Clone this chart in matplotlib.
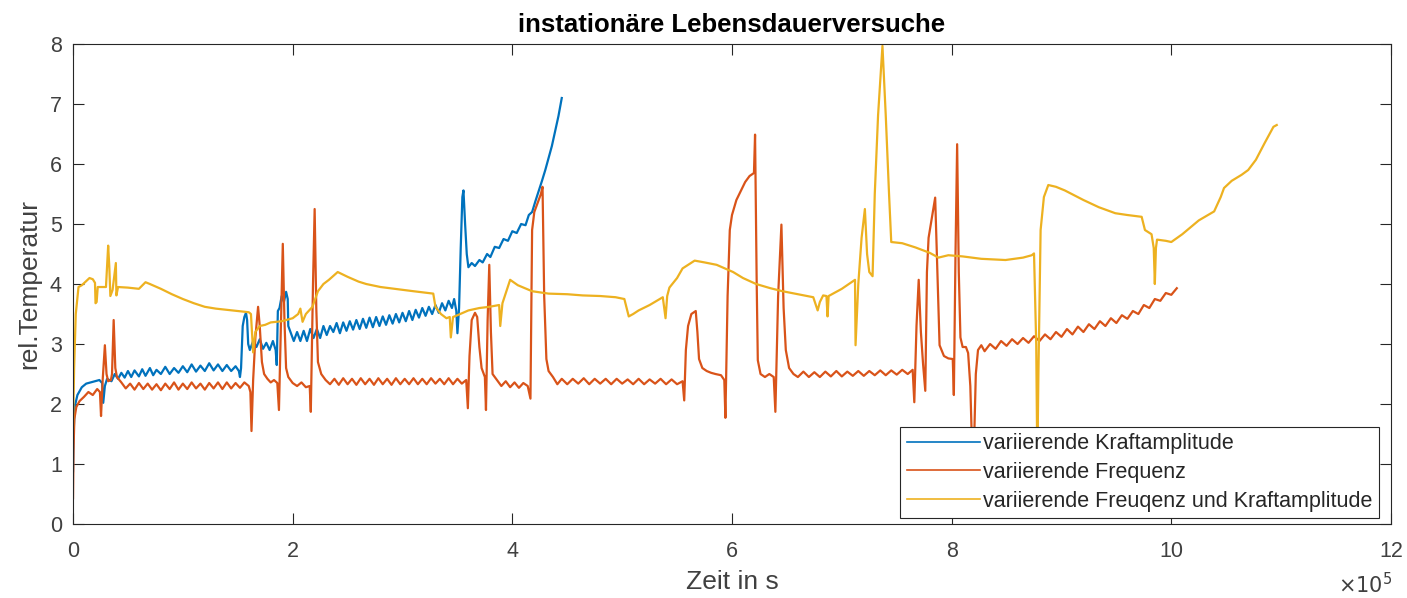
import matplotlib
matplotlib.use("Agg")
import matplotlib.pyplot as plt
import numpy as np

plt.rcParams['font.family'] = ['Liberation Sans', 'DejaVu Sans']

# Zeit in 1e5 s, rel. Temperatur
kraft_x = [0, 0.005, 0.015, 0.04, 0.08, 0.12, 0.18, 0.24, 0.265, 0.275, 0.29, 0.31, 0.35, 0.38, 0.41,
           0.44, 0.47, 0.5, 0.53, 0.56, 0.6, 0.63, 0.66, 0.7, 0.73, 0.76, 0.8, 0.84, 0.88, 0.92, 0.96,
           1.0, 1.04, 1.08, 1.12, 1.16, 1.2, 1.24, 1.28, 1.32, 1.36, 1.4, 1.44, 1.48, 1.51, 1.52, 1.53,
           1.545, 1.56, 1.575, 1.585, 1.595, 1.61, 1.64, 1.67, 1.7, 1.73, 1.76, 1.79, 1.82, 1.845, 1.855,
           1.865, 1.88, 1.9, 1.92, 1.94, 1.955, 1.96, 1.98, 2.01, 2.04, 2.07, 2.1, 2.13, 2.16, 2.19, 2.22,
           2.25, 2.28, 2.31, 2.34, 2.37, 2.40, 2.43, 2.46, 2.49, 2.52, 2.55, 2.58, 2.61, 2.64, 2.67, 2.70,
           2.73, 2.76, 2.79, 2.82, 2.85, 2.88, 2.91, 2.94, 2.97, 3.00, 3.03, 3.06, 3.09, 3.12, 3.15, 3.18,
           3.21, 3.24, 3.27, 3.30, 3.33, 3.36, 3.39, 3.42, 3.45, 3.47, 3.49, 3.50, 3.515, 3.53, 3.545,
           3.555, 3.57, 3.585, 3.6, 3.63, 3.66, 3.7, 3.73, 3.77, 3.8, 3.84, 3.88, 3.92, 3.96, 4.0, 4.04,
           4.08, 4.12, 4.15, 4.18, 4.21, 4.24, 4.27, 4.3, 4.33, 4.36, 4.39, 4.42, 4.44, 4.45]
kraft_y = [0.88, 1.5, 1.95, 2.15, 2.28, 2.34, 2.37, 2.4, 2.35, 2.02, 2.3, 2.42, 2.38, 2.5, 2.42,
           2.52, 2.44, 2.55, 2.45, 2.56, 2.46, 2.58, 2.47, 2.6, 2.48, 2.57, 2.5, 2.62, 2.5, 2.6, 2.52,
           2.63, 2.53, 2.66, 2.54, 2.64, 2.55, 2.68, 2.56, 2.66, 2.55, 2.65, 2.55, 2.63, 2.55, 2.45, 2.6,
           3.3, 3.45, 3.52, 3.4, 3.0, 2.9, 3.05, 2.95, 3.08, 2.92, 3.02, 2.9, 3.05, 2.9, 2.65,
           3.55, 3.6, 3.8, 3.7, 3.87, 3.75, 3.3, 3.2, 3.05, 3.2, 3.05, 3.22, 3.05, 3.25, 3.1, 3.25,
           3.1, 3.3, 3.15, 3.3, 3.20, 3.35, 3.18, 3.36, 3.22, 3.38, 3.24, 3.40, 3.25, 3.42, 3.27, 3.44,
           3.28, 3.45, 3.30, 3.46, 3.32, 3.48, 3.34, 3.50, 3.36, 3.52, 3.38, 3.55, 3.40, 3.57, 3.44, 3.60,
           3.47, 3.62, 3.50, 3.65, 3.52, 3.68, 3.56, 3.72, 3.60, 3.75, 3.55, 3.18, 3.6, 4.6, 5.45,
           5.56, 5.0, 4.5, 4.28, 4.35, 4.3, 4.4, 4.36, 4.5, 4.45, 4.62, 4.6, 4.75, 4.72, 4.88, 4.85,
           5.0, 4.98, 5.15, 5.2, 5.38, 5.55, 5.72, 5.9, 6.1, 6.3, 6.55, 6.8, 7.0, 7.1]

freq_x = [0, 0.004, 0.012, 0.03, 0.06, 0.1, 0.14, 0.18, 0.22, 0.245, 0.255, 0.27, 0.29, 0.305, 0.32,
          0.345, 0.355, 0.37, 0.385, 0.4,
          0.44, 0.48, 0.52, 0.56, 0.6, 0.64, 0.68, 0.72, 0.76, 0.8, 0.84, 0.88, 0.92, 0.96, 1.0, 1.04,
          1.08, 1.12, 1.16, 1.2, 1.24, 1.28, 1.32, 1.36, 1.4, 1.44, 1.48, 1.52, 1.56, 1.6,
          1.615, 1.625, 1.64, 1.66, 1.685, 1.70, 1.72, 1.74, 1.77, 1.8, 1.83, 1.86, 1.875, 1.895, 1.91,
          1.925, 1.94, 1.96, 2.0, 2.04, 2.08, 2.12, 2.155, 2.165, 2.185, 2.2, 2.215, 2.23, 2.26, 2.3,
          2.34, 2.38, 2.42, 2.46, 2.5, 2.54, 2.58, 2.62, 2.66, 2.7, 2.74, 2.78, 2.82, 2.86, 2.9, 2.94,
          2.98, 3.02, 3.06, 3.1, 3.14, 3.18, 3.22, 3.26, 3.3, 3.34, 3.38, 3.42, 3.46, 3.5, 3.54, 3.58,
          3.595, 3.61, 3.63, 3.66, 3.68, 3.7, 3.72, 3.75, 3.76, 3.775, 3.79, 3.805, 3.82, 3.86, 3.9,
          3.94, 3.98, 4.02, 4.06, 4.1, 4.14, 4.165, 4.18, 4.2, 4.23, 4.26, 4.275, 4.29, 4.31, 4.33, 4.37,
          4.41, 4.45, 4.5, 4.55, 4.6, 4.65, 4.7, 4.75, 4.8, 4.85, 4.9, 4.95, 5.0, 5.05, 5.1, 5.15, 5.2,
          5.25, 5.3, 5.35, 5.4, 5.45, 5.5, 5.55,
          5.565, 5.58, 5.6, 5.63, 5.67, 5.685, 5.70, 5.73, 5.77, 5.81, 5.85, 5.9, 5.93, 5.94, 5.96,
          5.98, 6.0, 6.04, 6.08, 6.12, 6.16, 6.2, 6.21, 6.225, 6.235, 6.26, 6.3, 6.34, 6.38, 6.395,
          6.42, 6.45, 6.47, 6.49, 6.52, 6.56,
          6.6, 6.65, 6.7, 6.75, 6.8, 6.85, 6.9, 6.95, 7.0, 7.05, 7.1, 7.15, 7.2, 7.25, 7.3, 7.35, 7.4,
          7.45, 7.5, 7.55, 7.6, 7.645,
          7.66, 7.68, 7.70, 7.72, 7.74, 7.76, 7.775, 7.79, 7.82, 7.85, 7.87, 7.89, 7.93, 7.97, 8.01,
          8.02, 8.035, 8.05, 8.065, 8.08, 8.1, 8.13, 8.15, 8.17, 8.19, 8.205, 8.22, 8.24, 8.27, 8.3,
          8.35, 8.4, 8.45, 8.5, 8.55, 8.6, 8.65, 8.7, 8.75, 8.8, 8.85, 8.9, 8.95, 9.0, 9.05, 9.1, 9.15,
          9.2, 9.25, 9.3, 9.35, 9.4, 9.45, 9.5, 9.55, 9.6, 9.65, 9.7, 9.75, 9.8, 9.85, 9.9, 9.95, 10.0,
          10.05]
freq_y = [0.43, 1.2, 1.75, 1.95, 2.05, 2.12, 2.2, 2.15, 2.25, 2.2, 1.8, 2.4, 2.98, 2.5, 2.38,
          2.4, 2.5, 3.4, 2.6, 2.45,
          2.36, 2.26, 2.34, 2.24, 2.35, 2.25, 2.34, 2.24, 2.33, 2.23, 2.34, 2.25, 2.36, 2.24, 2.34, 2.25,
          2.36, 2.26, 2.34, 2.24, 2.35, 2.26, 2.36, 2.25, 2.36, 2.26, 2.35, 2.27, 2.36, 2.3,
          2.2, 1.55, 2.4, 3.1, 3.62, 3.3, 2.7, 2.5, 2.42, 2.36, 2.4, 2.35, 1.9, 3.5, 4.67,
          3.4, 2.6, 2.45, 2.35, 2.3, 2.36, 2.28, 2.3, 1.87, 4.0, 5.25, 3.6, 2.7, 2.5, 2.4,
          2.33, 2.42, 2.32, 2.43, 2.33, 2.42, 2.32, 2.43, 2.33, 2.42, 2.32, 2.43, 2.33, 2.42, 2.32, 2.43,
          2.33, 2.42, 2.33, 2.43, 2.33, 2.42, 2.33, 2.43, 2.34, 2.42, 2.33, 2.43, 2.33, 2.42, 2.34, 2.4,
          1.93, 2.8, 3.4, 3.52, 3.45, 2.95, 2.6, 2.45, 1.9, 3.4, 4.32, 3.2, 2.5, 2.4, 2.3,
          2.38, 2.28, 2.36, 2.27, 2.35, 2.3, 2.09, 4.9, 5.2, 5.35, 5.5, 5.62, 3.8, 2.75, 2.55, 2.45,
          2.33, 2.42, 2.33, 2.42, 2.34, 2.43, 2.33, 2.42, 2.34, 2.42, 2.33, 2.42, 2.34, 2.41, 2.33, 2.42, 2.33,
          2.41, 2.34, 2.42, 2.33, 2.41, 2.33, 2.38,
          2.06, 2.9, 3.3, 3.5, 3.55, 3.2, 2.75, 2.6, 2.55, 2.52, 2.5, 2.48, 2.4, 1.77, 3.8,
          4.9, 5.15, 5.4, 5.55, 5.7, 5.8, 5.85, 6.49, 4.0, 2.73, 2.5, 2.45, 2.5, 2.45, 1.87,
          3.8, 4.99, 3.6, 2.9, 2.6, 2.5,
          2.45, 2.54, 2.45, 2.53, 2.45, 2.54, 2.46, 2.55, 2.46, 2.54, 2.47, 2.55, 2.47, 2.55, 2.48, 2.56, 2.48,
          2.56, 2.49, 2.57, 2.5, 2.57,
          2.03, 3.3, 4.07, 3.2, 2.66, 2.22, 4.2, 4.77, 5.1, 5.44, 4.2, 2.98, 2.8, 2.76, 2.75,
          2.15, 4.5, 6.33, 4.2, 3.11, 2.95, 2.95, 2.85, 2.3, 1.0, 1.4, 2.5, 2.9, 2.98, 2.88,
          3.0, 2.92, 3.05, 2.97, 3.08, 3.0, 3.1, 3.02, 3.13, 3.05, 3.16, 3.08, 3.2, 3.12, 3.25, 3.16, 3.29,
          3.2, 3.33, 3.25, 3.38, 3.3, 3.43, 3.35, 3.48, 3.42, 3.55, 3.5, 3.65, 3.6, 3.75, 3.72, 3.85, 3.82,
          3.93]

beide_x = [0, 0.01, 0.025, 0.05, 0.08, 0.12, 0.15, 0.18, 0.2, 0.205, 0.215, 0.225, 0.3, 0.31, 0.32,
           0.33, 0.34, 0.36, 0.38, 0.39, 0.395, 0.41, 0.5, 0.6, 0.66, 0.7, 0.8, 0.9, 1.0, 1.1, 1.2, 1.3,
           1.4, 1.5, 1.6, 1.62, 1.64, 1.66, 1.7, 1.75, 1.8, 1.9, 2.0, 2.05, 2.07, 2.09, 2.12, 2.18, 2.23,
           2.28, 2.33, 2.41, 2.5, 2.6, 2.67, 2.8, 2.97, 3.1, 3.28, 3.3, 3.35, 3.4, 3.43, 3.44, 3.46, 3.5,
           3.6, 3.7, 3.79, 3.88, 3.89, 3.91, 3.95, 3.98, 4.05, 4.18, 4.33, 4.5, 4.64, 4.8, 4.94, 5.02,
           5.06, 5.1, 5.15, 5.25, 5.37, 5.395, 5.41, 5.43, 5.5, 5.55, 5.66, 5.75, 5.86, 6.01, 6.1, 6.22,
           6.35, 6.46, 6.6, 6.74, 6.78, 6.8, 6.83, 6.86, 6.87, 6.88, 6.92, 7.0, 7.12, 7.125, 7.15, 7.18,
           7.21, 7.23, 7.25, 7.28, 7.3, 7.33, 7.37, 7.4, 7.43, 7.45, 7.55, 7.67, 7.8, 7.88, 7.97, 8.1,
           8.27, 8.49, 8.65, 8.73, 8.75, 8.77, 8.78, 8.79, 8.81, 8.84, 8.88, 8.95, 9.03, 9.2, 9.34, 9.49,
           9.6, 9.73, 9.76, 9.82, 9.84, 9.85, 9.86, 9.87, 9.95, 10.0, 10.1, 10.25, 10.39, 10.45, 10.48,
           10.55, 10.64, 10.7, 10.77, 10.85, 10.93, 10.96]
beide_y = [1.58, 2.6, 3.5, 3.95, 3.98, 4.05, 4.1, 4.08, 4.02, 3.68, 3.7, 3.95, 3.95, 4.3, 4.64,
           4.3, 3.8, 3.9, 4.2, 4.35, 3.81, 3.95, 3.94, 3.92, 4.03, 4.0, 3.92, 3.83, 3.75, 3.68, 3.62, 3.59,
           3.57, 3.55, 3.53, 3.5, 2.86, 3.2, 3.3, 3.32, 3.36, 3.38, 3.43, 3.5, 3.59, 3.37, 3.5, 3.62, 3.88,
           4.0, 4.07, 4.2, 4.12, 4.04, 4.0, 3.95, 3.91, 3.88, 3.84, 3.62, 3.5, 3.43, 3.45, 3.11, 3.45, 3.48,
           3.56, 3.6, 3.62, 3.65, 3.3, 3.68, 3.9, 4.07, 3.98, 3.88, 3.84, 3.83, 3.81, 3.8, 3.78, 3.75,
           3.46, 3.5, 3.56, 3.65, 3.78, 3.43, 3.8, 3.94, 4.1, 4.26, 4.39, 4.36, 4.32, 4.2, 4.1, 4.0,
           3.93, 3.88, 3.83, 3.78, 3.56, 3.7, 3.81, 3.8, 3.46, 3.8, 3.84, 3.92, 4.07, 2.98, 4.0, 4.77,
           5.25, 4.5, 4.2, 4.13, 5.5, 6.81, 7.97, 6.81, 5.5, 4.7, 4.68, 4.61, 4.52, 4.44, 4.48, 4.46,
           4.42, 4.4, 4.44, 4.48, 4.51, 3.0, 1.0, 2.5, 4.9, 5.45, 5.65, 5.62, 5.56, 5.4, 5.28, 5.18,
           5.15, 5.12, 4.9, 4.83, 4.6, 4.0, 4.6, 4.74, 4.72, 4.7, 4.83, 5.06, 5.21, 5.45, 5.6,
           5.72, 5.82, 5.9, 6.07, 6.35, 6.62, 6.65]

labels = ["variierende Kraftamplitude", "variierende Frequenz",
          "variierende Freuqenz und Kraftamplitude"]
colors = ["#0072BD", "#D95319", "#EDB120"]

fig = plt.figure(figsize=(14.07, 5.98), dpi=100)
ax = fig.add_axes([0.0519, 0.1237, 0.9367, 0.8027])

for xs, ys, lab, col in zip([kraft_x, freq_x, beide_x], [kraft_y, freq_y, beide_y], labels, colors):
    ax.plot(np.array(xs) * 1e5, ys, color=col, linewidth=1.6, label=lab)

ax.set_xlim(0, 12e5)
ax.set_ylim(0, 8)
ax.set_xticks(np.arange(0, 13e5, 2e5))
ax.set_xticklabels([str(v) for v in range(0, 13, 2)])
ax.set_yticks(range(0, 9))
ax.tick_params(direction='in', length=8, width=0.8, top=True, right=True,
               labelsize=15.5, colors='#262626', labelcolor='#404040')
ax.tick_params(axis='x', pad=12)
ax.tick_params(axis='y', pad=8)
for s in ax.spines.values():
    s.set_color('#262626')
    s.set_linewidth(0.8)

ax.set_title("instationäre Lebensdauerversuche", fontsize=18.5, fontweight='bold', pad=9)
ax.set_xlabel("Zeit in s", fontsize=19, color='#404040', labelpad=6)
ax.set_ylabel("rel.Temperatur", fontsize=19, color='#404040', labelpad=6)
# Exponent der x-Achse wie in MATLAB unten rechts
fig.text(1392 / 1407, 1 / 598, r"$\times10^5$", ha='right', va='bottom',
         fontsize=15, color='#404040')

leg = ax.legend(loc='lower right', bbox_to_anchor=(1 - 12 / 1318, 6 / 480), borderaxespad=0,
                fontsize=15.5, frameon=True, fancybox=False,
                edgecolor='#262626', framealpha=1, labelcolor='#262626',
                handlelength=3.4, handletextpad=0.15, labelspacing=0.35,
                borderpad=0.3)
leg.get_frame().set_linewidth(0.8)
for line in leg.get_lines():
    line.set_linewidth(1.2)

fig.savefig("out.png", dpi=100)
